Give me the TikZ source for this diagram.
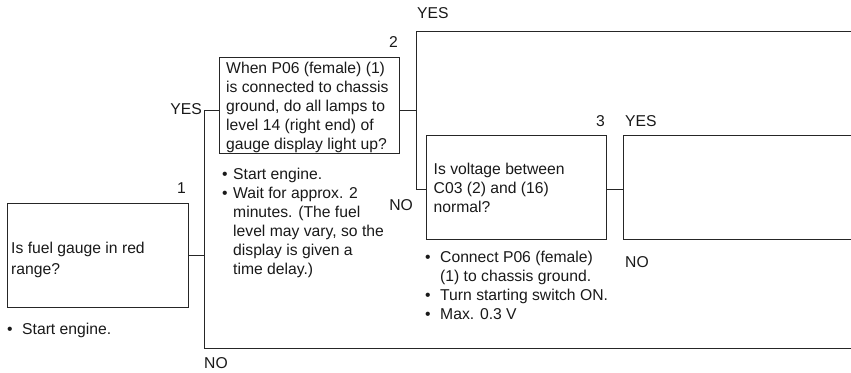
\documentclass[tikz,border=0pt]{standalone}
\usepackage{fontspec}
\setmainfont{Liberation Sans}
\newcommand\mybul[1]{\makebox[#1][l]{•}}
\begin{document}
\begin{tikzpicture}[x=1pt,y=-1pt,
  line/.style={line width=0.9pt, draw=black!85},
  box/.style={line, rectangle, inner sep=0pt, anchor=north west},
  txt/.style={inner sep=0pt, align=left, anchor=north west, font=\fontsize{15.7}{19}\selectfont, text=black!90},
  lbl/.style={inner sep=0pt, font=\fontsize{15.7}{19}\selectfont, text=black!90}]
\useasboundingbox (0,0) rectangle (851,372);
\clip (0,0) rectangle (851,372);
% boxes
\node[box, minimum width=181pt, minimum height=104pt] (b1) at (7,203) {};
\node[box, minimum width=180pt, minimum height=96pt] (b2) at (219,57) {};
\node[box, minimum width=180pt, minimum height=104pt] (b3) at (426,135) {};
\node[box, minimum width=260pt, minimum height=104pt] (b4) at (623,135) {};
% box texts
\node[txt, font=\fontsize{15.7}{21}\selectfont] (t1) at (11,241) {\rule{0pt}{12pt}Is fuel gauge in red\\range?};
\node[txt] (t2) at (226,61) {\rule{0pt}{12pt}When P06 (female) (1)\\is connected to chassis\\ground, do all lamps to\\level 14 (right end) of\\gauge display light up?};
\node[txt] (t3) at (433.5,162) {\rule{0pt}{12pt}Is voltage between\\C03 (2) and (16)\\normal?};
% notes
\node[txt] (n1) at (7,322) {\rule{0pt}{12pt}\mybul{15pt}Start engine.};
\node[txt] (n2) at (222,167.5) {\rule{0pt}{12pt}\mybul{11pt}Start engine.\\\mybul{11pt}Wait for approx. 2\\\hspace*{11pt}minutes. (The fuel\\\hspace*{11pt}level may vary, so the\\\hspace*{11pt}display is given a\\\hspace*{11pt}time delay.)};
\node[txt] (n3) at (425,250) {\rule{0pt}{12pt}\mybul{15pt}Connect P06 (female)\\\hspace*{15pt}(1) to chassis ground.\\\mybul{15pt}Turn starting switch ON.\\\mybul{15pt}Max. 0.3 V};
% labels
\node[lbl, anchor=base east] (l1) at (186,193) {1};
\node[lbl, anchor=base east] (l2) at (398,47) {2};
\node[lbl, anchor=base east] (l3) at (605,126) {3};
\node[lbl, anchor=base east] (y1) at (202,114) {YES};
\node[lbl, anchor=base west] (no1) at (204,368) {NO};
\node[lbl, anchor=base west] (y2) at (417,19) {YES};
\node[lbl, anchor=base east] (no2) at (413,210) {NO};
\node[lbl, anchor=base west] (y3) at (625,126) {YES};
\node[lbl, anchor=base west] (no3) at (625,267) {NO};
% connectors
\coordinate (j1t) at (204,110);
\coordinate (j1b) at (204,348);
\coordinate (e1) at (870,348);
\coordinate (j2m) at (416,110);
\coordinate (j2t) at (416,31);
\coordinate (j2b) at (416,189);
\coordinate (e2) at (870,31);
\coordinate (j3) at (615,189);
\draw[line] (b1.east) -- (b1.east -| j1t);
\draw[line] (j1t -| b2.west) -- (j1t) -- (j1b) -- (e1);
\draw[line] (j2m -| b2.east) -- (j2m);
\draw[line] (e2) -- (j2t) -- (j2b) -- (j2b -| b3.west);
\draw[line] (j3 -| b3.east) -- (j3 -| b4.west);
\end{tikzpicture}
\end{document}
